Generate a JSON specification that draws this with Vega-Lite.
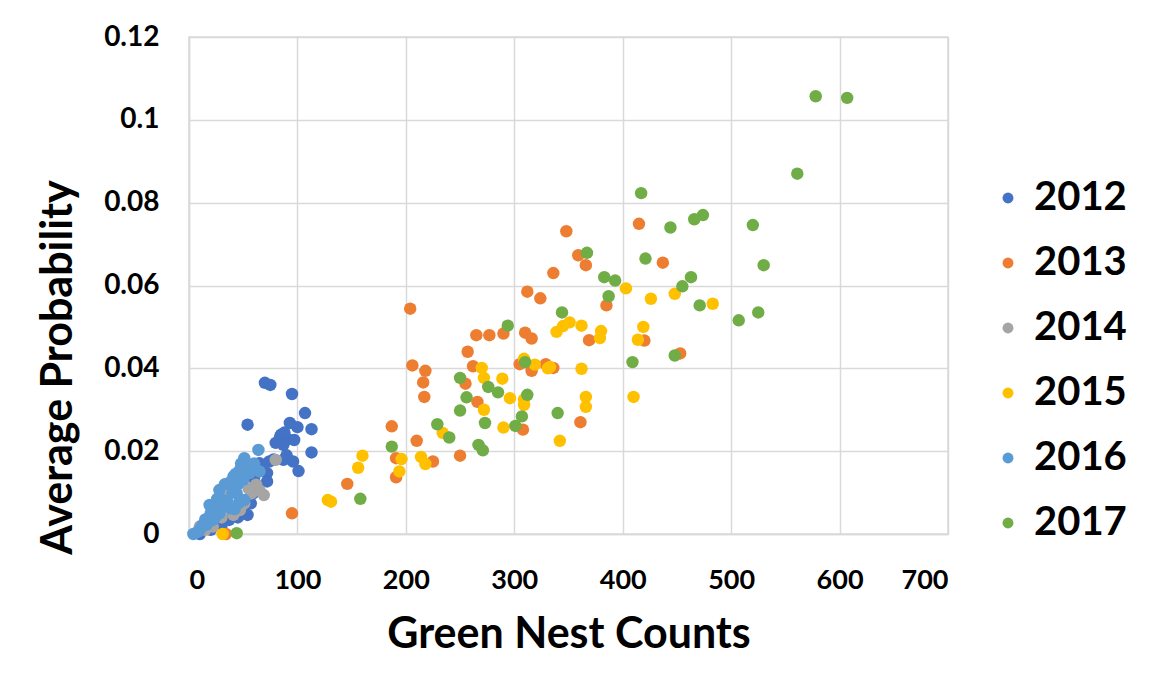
{
  "$schema": "https://vega.github.io/schema/vega-lite/v6.json",
  "autosize": "none",
  "width": 759,
  "height": 497,
  "padding": {"left": 189, "top": 37, "right": 218, "bottom": 153},
  "background": "white",
  "config": {
    "view": {"stroke": "#d9d9d9", "strokeWidth": 1.5},
    "font": "Lato"
  },
  "datasets": {
    "pts": [
      {"year": "2012", "count": 70, "prob": 0.0365}, {"year": "2012", "count": 75, "prob": 0.036}, {"year": "2012", "count": 95, "prob": 0.0338},
      {"year": "2012", "count": 107, "prob": 0.0292}, {"year": "2012", "count": 54, "prob": 0.0264}, {"year": "2012", "count": 93, "prob": 0.0268},
      {"year": "2012", "count": 100, "prob": 0.0258}, {"year": "2012", "count": 113, "prob": 0.0253}, {"year": "2012", "count": 84, "prob": 0.0235},
      {"year": "2012", "count": 91, "prob": 0.0229}, {"year": "2012", "count": 97, "prob": 0.0227}, {"year": "2012", "count": 87, "prob": 0.0215},
      {"year": "2012", "count": 113, "prob": 0.0197}, {"year": "2012", "count": 96, "prob": 0.0175}, {"year": "2012", "count": 101, "prob": 0.0152},
      {"year": "2012", "count": 87, "prob": 0.0179}, {"year": "2012", "count": 74, "prob": 0.0175}, {"year": "2012", "count": 72, "prob": 0.0147},
      {"year": "2012", "count": 72, "prob": 0.0127}, {"year": "2012", "count": 65, "prob": 0.0171}, {"year": "2012", "count": 57, "prob": 0.0074},
      {"year": "2012", "count": 54, "prob": 0.0046}, {"year": "2012", "count": 59, "prob": 0.0098}, {"year": "2012", "count": 10, "prob": 0.0},
      {"year": "2012", "count": 37, "prob": 0.0034}, {"year": "2012", "count": 80, "prob": 0.022}, {"year": "2012", "count": 90, "prob": 0.019},
      {"year": "2012", "count": 78, "prob": 0.018}, {"year": "2012", "count": 68, "prob": 0.016}, {"year": "2012", "count": 62, "prob": 0.012},
      {"year": "2012", "count": 50, "prob": 0.006}, {"year": "2012", "count": 45, "prob": 0.004}, {"year": "2012", "count": 30, "prob": 0.002},
      {"year": "2012", "count": 20, "prob": 0.001}, {"year": "2012", "count": 85, "prob": 0.024}, {"year": "2012", "count": 88, "prob": 0.0245},
      {"year": "2012", "count": 60, "prob": 0.0135},
      {"year": "2013", "count": 204, "prob": 0.0544}, {"year": "2013", "count": 206, "prob": 0.0407}, {"year": "2013", "count": 218, "prob": 0.0394},
      {"year": "2013", "count": 216, "prob": 0.0366}, {"year": "2013", "count": 217, "prob": 0.0331}, {"year": "2013", "count": 187, "prob": 0.026},
      {"year": "2013", "count": 191, "prob": 0.0183}, {"year": "2013", "count": 191, "prob": 0.0137}, {"year": "2013", "count": 210, "prob": 0.0225},
      {"year": "2013", "count": 225, "prob": 0.0175}, {"year": "2013", "count": 250, "prob": 0.0189}, {"year": "2013", "count": 146, "prob": 0.0121},
      {"year": "2013", "count": 255, "prob": 0.0363}, {"year": "2013", "count": 266, "prob": 0.0319}, {"year": "2013", "count": 257, "prob": 0.044},
      {"year": "2013", "count": 265, "prob": 0.048}, {"year": "2013", "count": 277, "prob": 0.048}, {"year": "2013", "count": 290, "prob": 0.0484},
      {"year": "2013", "count": 262, "prob": 0.0405}, {"year": "2013", "count": 308, "prob": 0.0252}, {"year": "2013", "count": 312, "prob": 0.0585},
      {"year": "2013", "count": 324, "prob": 0.0569}, {"year": "2013", "count": 310, "prob": 0.0486}, {"year": "2013", "count": 316, "prob": 0.0472},
      {"year": "2013", "count": 305, "prob": 0.041}, {"year": "2013", "count": 316, "prob": 0.0394}, {"year": "2013", "count": 329, "prob": 0.041},
      {"year": "2013", "count": 336, "prob": 0.063}, {"year": "2013", "count": 348, "prob": 0.0731}, {"year": "2013", "count": 359, "prob": 0.0673},
      {"year": "2013", "count": 366, "prob": 0.0649}, {"year": "2013", "count": 415, "prob": 0.0749}, {"year": "2013", "count": 437, "prob": 0.0655},
      {"year": "2013", "count": 385, "prob": 0.0552}, {"year": "2013", "count": 369, "prob": 0.0468}, {"year": "2013", "count": 420, "prob": 0.0467},
      {"year": "2013", "count": 453, "prob": 0.0436}, {"year": "2013", "count": 336, "prob": 0.0401}, {"year": "2013", "count": 361, "prob": 0.027},
      {"year": "2013", "count": 95, "prob": 0.005}, {"year": "2013", "count": 34, "prob": 0.0},
      {"year": "2014", "count": 80, "prob": 0.0179}, {"year": "2014", "count": 62, "prob": 0.0119}, {"year": "2014", "count": 69, "prob": 0.0094},
      {"year": "2014", "count": 57.5, "prob": 0.0098}, {"year": "2014", "count": 51, "prob": 0.0074}, {"year": "2014", "count": 47, "prob": 0.0058},
      {"year": "2014", "count": 41, "prob": 0.0046}, {"year": "2014", "count": 34.5, "prob": 0.009}, {"year": "2014", "count": 22, "prob": 0.0018},
      {"year": "2014", "count": 10, "prob": 0.0018}, {"year": "2014", "count": 65, "prob": 0.0105}, {"year": "2014", "count": 55, "prob": 0.011},
      {"year": "2014", "count": 30, "prob": 0.004}, {"year": "2014", "count": 15, "prob": 0.001},
      {"year": "2015", "count": 196, "prob": 0.0181}, {"year": "2015", "count": 214, "prob": 0.0186}, {"year": "2015", "count": 218, "prob": 0.0169},
      {"year": "2015", "count": 160, "prob": 0.0189}, {"year": "2015", "count": 156, "prob": 0.016}, {"year": "2015", "count": 131, "prob": 0.0078},
      {"year": "2015", "count": 128, "prob": 0.0082}, {"year": "2015", "count": 194, "prob": 0.0151}, {"year": "2015", "count": 234, "prob": 0.0244},
      {"year": "2015", "count": 272, "prob": 0.03}, {"year": "2015", "count": 270, "prob": 0.0401}, {"year": "2015", "count": 272, "prob": 0.0377},
      {"year": "2015", "count": 289, "prob": 0.0375}, {"year": "2015", "count": 296, "prob": 0.0328}, {"year": "2015", "count": 290, "prob": 0.0257},
      {"year": "2015", "count": 309, "prob": 0.0312}, {"year": "2015", "count": 309, "prob": 0.0423}, {"year": "2015", "count": 319, "prob": 0.0409},
      {"year": "2015", "count": 331, "prob": 0.04}, {"year": "2015", "count": 403, "prob": 0.0593}, {"year": "2015", "count": 426, "prob": 0.0568},
      {"year": "2015", "count": 448, "prob": 0.058}, {"year": "2015", "count": 483, "prob": 0.0556}, {"year": "2015", "count": 339, "prob": 0.0488},
      {"year": "2015", "count": 345, "prob": 0.0502}, {"year": "2015", "count": 351, "prob": 0.0511}, {"year": "2015", "count": 362, "prob": 0.0503},
      {"year": "2015", "count": 380, "prob": 0.049}, {"year": "2015", "count": 379, "prob": 0.0473}, {"year": "2015", "count": 419, "prob": 0.05},
      {"year": "2015", "count": 414, "prob": 0.0469}, {"year": "2015", "count": 333, "prob": 0.0403}, {"year": "2015", "count": 362, "prob": 0.0399},
      {"year": "2015", "count": 366, "prob": 0.0331}, {"year": "2015", "count": 366, "prob": 0.0307}, {"year": "2015", "count": 410, "prob": 0.0331},
      {"year": "2015", "count": 342, "prob": 0.0225}, {"year": "2015", "count": 31, "prob": 0.0}, {"year": "2015", "count": 309, "prob": 0.0325},
      {"year": "2016", "count": 64, "prob": 0.0203}, {"year": "2016", "count": 51, "prob": 0.0183}, {"year": "2016", "count": 57.5, "prob": 0.0163},
      {"year": "2016", "count": 65, "prob": 0.0151}, {"year": "2016", "count": 47, "prob": 0.0155}, {"year": "2016", "count": 41, "prob": 0.0139},
      {"year": "2016", "count": 36, "prob": 0.0119}, {"year": "2016", "count": 50, "prob": 0.0131}, {"year": "2016", "count": 56, "prob": 0.0147},
      {"year": "2016", "count": 44, "prob": 0.0098}, {"year": "2016", "count": 31, "prob": 0.0082}, {"year": "2016", "count": 51, "prob": 0.0082},
      {"year": "2016", "count": 25, "prob": 0.0066}, {"year": "2016", "count": 19, "prob": 0.007}, {"year": "2016", "count": 37.5, "prob": 0.0062},
      {"year": "2016", "count": 28, "prob": 0.005}, {"year": "2016", "count": 22, "prob": 0.0034}, {"year": "2016", "count": 16, "prob": 0.0022},
      {"year": "2016", "count": 10, "prob": 0.001}, {"year": "2016", "count": 4, "prob": 0.0}, {"year": "2016", "count": 28, "prob": 0.0106},
      {"year": "2016", "count": 33, "prob": 0.012}, {"year": "2016", "count": 38, "prob": 0.0125}, {"year": "2016", "count": 45, "prob": 0.012},
      {"year": "2016", "count": 40, "prob": 0.01}, {"year": "2016", "count": 35, "prob": 0.008}, {"year": "2016", "count": 30, "prob": 0.007},
      {"year": "2016", "count": 24, "prob": 0.004}, {"year": "2016", "count": 18, "prob": 0.003}, {"year": "2016", "count": 12, "prob": 0.002},
      {"year": "2016", "count": 8, "prob": 0.0005}, {"year": "2016", "count": 43, "prob": 0.0145}, {"year": "2016", "count": 48, "prob": 0.017},
      {"year": "2016", "count": 53, "prob": 0.015}, {"year": "2016", "count": 60, "prob": 0.017}, {"year": "2016", "count": 46, "prob": 0.0075},
      {"year": "2016", "count": 42, "prob": 0.006}, {"year": "2016", "count": 15, "prob": 0.0035}, {"year": "2016", "count": 20, "prob": 0.005},
      {"year": "2016", "count": 26, "prob": 0.0085},
      {"year": "2017", "count": 187, "prob": 0.0211}, {"year": "2017", "count": 158, "prob": 0.0085}, {"year": "2017", "count": 229, "prob": 0.0265},
      {"year": "2017", "count": 240, "prob": 0.0233}, {"year": "2017", "count": 250, "prob": 0.0377}, {"year": "2017", "count": 256, "prob": 0.033},
      {"year": "2017", "count": 250, "prob": 0.0298}, {"year": "2017", "count": 273, "prob": 0.0268}, {"year": "2017", "count": 267, "prob": 0.0215},
      {"year": "2017", "count": 271, "prob": 0.0202}, {"year": "2017", "count": 294, "prob": 0.0503}, {"year": "2017", "count": 276, "prob": 0.0355},
      {"year": "2017", "count": 285, "prob": 0.0342}, {"year": "2017", "count": 301, "prob": 0.0261}, {"year": "2017", "count": 307, "prob": 0.0284},
      {"year": "2017", "count": 312, "prob": 0.0336}, {"year": "2017", "count": 310, "prob": 0.0415}, {"year": "2017", "count": 417, "prob": 0.0823},
      {"year": "2017", "count": 444, "prob": 0.074}, {"year": "2017", "count": 466, "prob": 0.076}, {"year": "2017", "count": 474, "prob": 0.077},
      {"year": "2017", "count": 520, "prob": 0.0746}, {"year": "2017", "count": 367, "prob": 0.0679}, {"year": "2017", "count": 421, "prob": 0.0665},
      {"year": "2017", "count": 383, "prob": 0.062}, {"year": "2017", "count": 393, "prob": 0.0612}, {"year": "2017", "count": 387, "prob": 0.0574},
      {"year": "2017", "count": 455, "prob": 0.0598}, {"year": "2017", "count": 463, "prob": 0.062}, {"year": "2017", "count": 471, "prob": 0.0552},
      {"year": "2017", "count": 507, "prob": 0.0516}, {"year": "2017", "count": 525, "prob": 0.0535}, {"year": "2017", "count": 344, "prob": 0.0535},
      {"year": "2017", "count": 409, "prob": 0.0415}, {"year": "2017", "count": 448, "prob": 0.0431}, {"year": "2017", "count": 340, "prob": 0.0292},
      {"year": "2017", "count": 578, "prob": 0.1057}, {"year": "2017", "count": 607, "prob": 0.1053}, {"year": "2017", "count": 561, "prob": 0.087},
      {"year": "2017", "count": 530, "prob": 0.0649}, {"year": "2017", "count": 44, "prob": 0.0002}
    ]
  },
  "data": {"name": "pts"},
  "mark": {"type": "circle", "size": 155, "opacity": 1},
  "encoding": {
    "x": {
      "field": "count", "type": "quantitative",
      "scale": {"domain": [0, 700], "nice": false, "zero": true},
      "axis": {
        "values": [0, 100, 200, 300, 400, 500, 600, 700],
        "title": "Green Nest Counts",
        "titleFont": "Lato", "titleFontSize": 43, "titleFontWeight": "bold", "titleColor": "black",
        "titlePadding": 20,
        "labelFont": "Lato", "labelFontSize": 27, "labelFontWeight": "bold", "labelColor": "black",
        "labelPadding": 33, "ticks": false,
        "grid": true, "gridColor": "#d9d9d9", "gridWidth": 1.5,
        "domainColor": "#d9d9d9", "domainWidth": 1.5
      }
    },
    "y": {
      "field": "prob", "type": "quantitative",
      "scale": {"domain": [0, 0.12], "nice": false},
      "axis": {
        "values": [0, 0.02, 0.04, 0.06, 0.08, 0.1, 0.12],
        "format": ".2~f",
        "title": "Average Probability",
        "titleFont": "Lato", "titleFontSize": 43, "titleFontWeight": "bold", "titleColor": "black",
        "titleX": -131, "titleY": 330, "titleAlign": "center", "titleBaseline": "middle", "titleAngle": -90,
        "labelFont": "Lato", "labelFontSize": 28, "labelFontWeight": "bold", "labelColor": "black",
        "labelPadding": 30, "ticks": false,
        "grid": true, "gridColor": "#d9d9d9", "gridWidth": 1.5,
        "domainColor": "#d9d9d9", "domainWidth": 1.5
      }
    },
    "color": {
      "field": "year", "type": "nominal",
      "scale": {
        "domain": ["2012", "2013", "2014", "2015", "2016", "2017"],
        "range": ["#4472C4", "#ED7D31", "#A5A5A5", "#FFC000", "#5B9BD5", "#70AD47"]
      },
      "legend": {
        "title": null, "orient": "none", "legendX": 799, "legendY": 141,
        "padding": 0, "symbolType": "circle", "symbolSize": 120, "symbolOpacity": 1,
        "labelFont": "Lato", "labelFontSize": 40, "labelFontWeight": "bold", "labelColor": "black",
        "labelOffset": 6, "rowPadding": 25
      }
    },
    "order": {"field": "year", "type": "nominal"}
  }
}
